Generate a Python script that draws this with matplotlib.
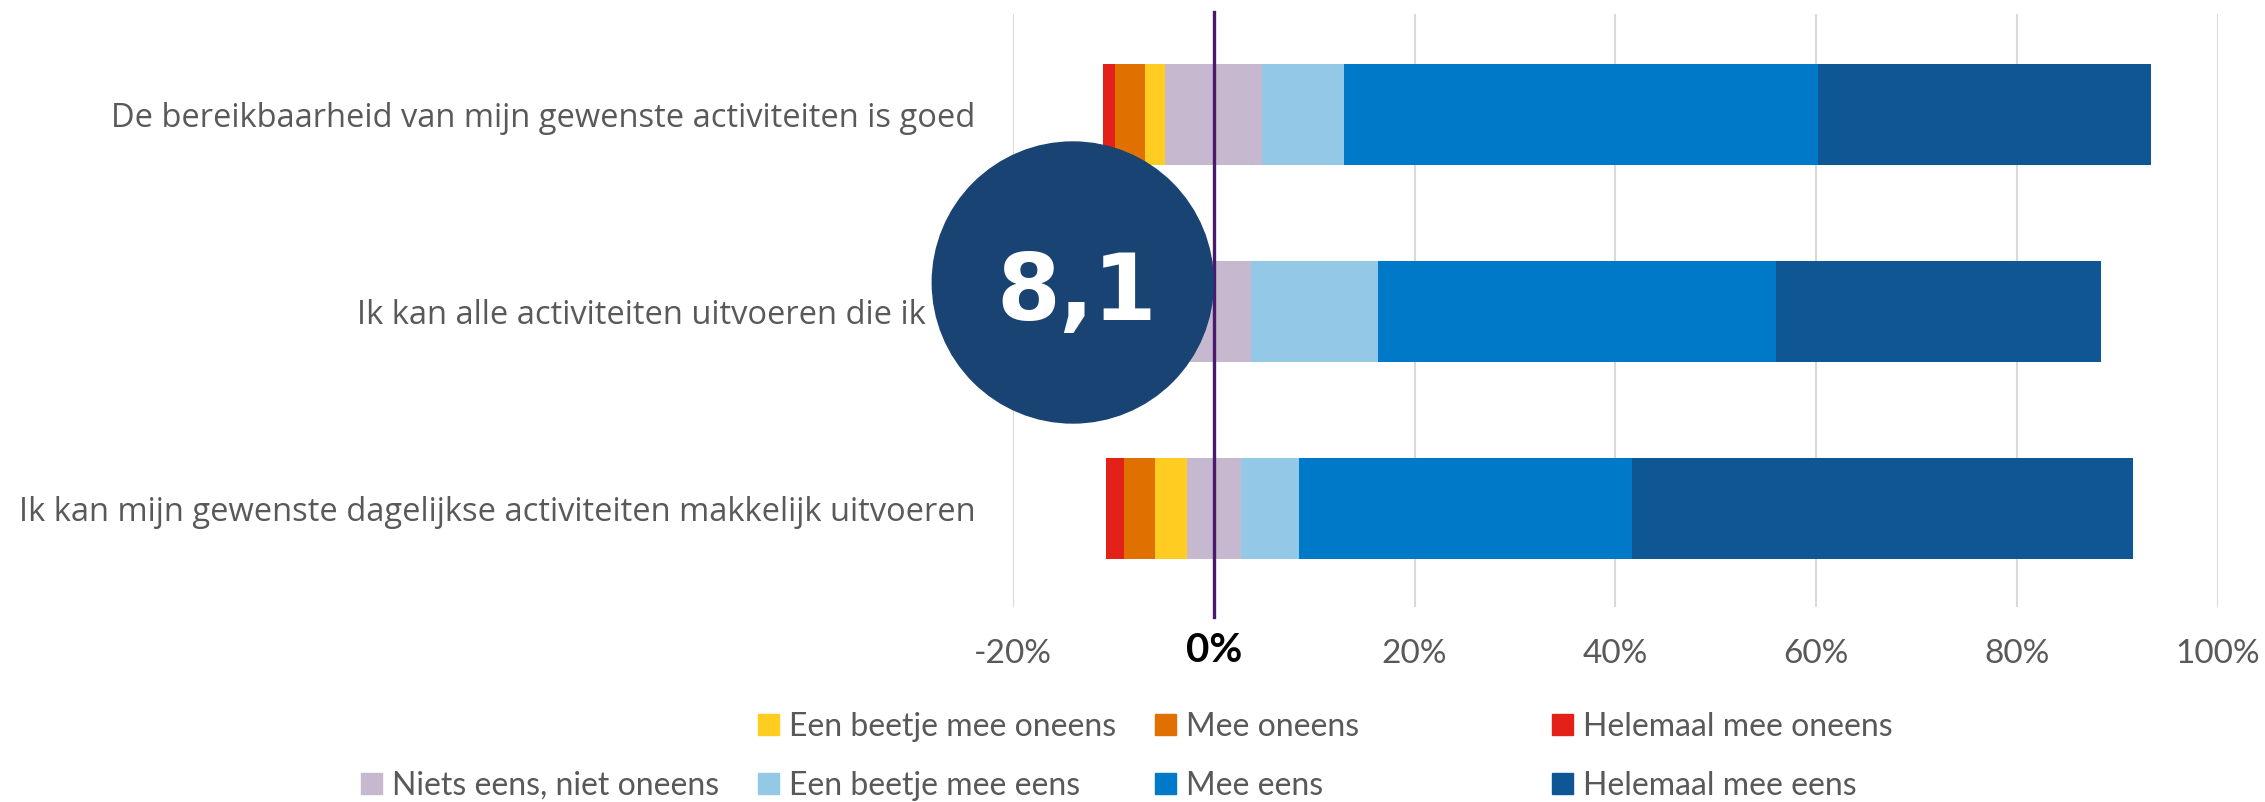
#!/usr/bin/env python3

import numpy as np
import matplotlib
matplotlib.use('Agg')
import matplotlib.pyplot as plt
from matplotlib.patches import Rectangle, Ellipse
from matplotlib.transforms import ScaledTranslation


#------------------------------------------------------------------------------
# Data
#------------------------------------------------------------------------------

categories = [
    'De bereikbaarheid van mijn gewenste activiteiten is goed',
    'Ik kan alle activiteiten uitvoeren die ik wil',
    'Ik kan mijn gewenste dagelijkse activiteiten makkelijk uitvoeren',
]

# percentages per answer, one value per category (top to bottom)
helemaal_oneens = [1.15, 1.0, 1.74]
mee_oneens = [2.97, 2.5, 3.15]
beetje_oneens = [2.06, 2.0, 3.14]
neutraal = [9.66, 7.46, 5.36]
beetje_eens = [8.14, 12.60, 5.81]
mee_eens = [47.18, 39.64, 33.18]
helemaal_eens = [33.25, 32.38, 49.88]

series_names = [
    'Helemaal mee oneens', 'Mee oneens', 'Een beetje mee oneens',
    'Niets eens, niet oneens', 'Een beetje mee eens', 'Mee eens',
    'Helemaal mee eens',
]
series_values = [helemaal_oneens, mee_oneens, beetje_oneens, neutraal,
                 beetje_eens, mee_eens, helemaal_eens]
series_colors = ['#E32119', '#E07000', '#FFCC22', '#C5B8CF',
                 '#93C9E6', '#0079C8', '#0E5794']

# legend layout as in the original (first slot empty)
legend_rows = [
    [None, 'Een beetje mee oneens', 'Mee oneens', 'Helemaal mee oneens'],
    ['Niets eens, niet oneens', 'Een beetje mee eens', 'Mee eens', 'Helemaal mee eens'],
]

x_ticks = [-20, 0, 20, 40, 60, 80, 100]
x_tick_labels = ['-20%', '0%', '20%', '40%', '60%', '80%', '100%']

score = '8,1'


#------------------------------------------------------------------------------
# Plot
#------------------------------------------------------------------------------

W, H = 2265, 802
GREY = '#595959'

fig = plt.figure(figsize=(W / 100, H / 100), dpi=100)
ax = fig.add_axes([1013 / W, 1 - 607 / H, (2217.6 - 1013) / W, 593 / H])

y = np.arange(len(categories))
values = np.array(series_values)
# start of each bar: everything left of the middle of the neutral segment
left = -(values[0] + values[1] + values[2] + values[3] / 2)
for name, vals, color in zip(series_names, values, series_colors):
    ax.barh(y, vals, left=left, height=0.51, color=color, zorder=3)
    left = left + vals

ax.set_xlim(-20, 100)
ax.set_ylim(2.5, -0.51)
ax.set_xticks(x_ticks)
ax.set_xticklabels(x_tick_labels, fontsize=24, color=GREY, family='Lato')
ax.set_yticks(y)
ax.set_yticklabels(categories, fontsize=23.5, color=GREY, family='Open Sans')
ax.tick_params(axis='x', length=0, pad=23)
ax.tick_params(axis='y', length=0, pad=27)
zero_label = ax.get_xticklabels()[1]
zero_label.set_fontweight('bold')
zero_label.set_fontsize(29)
zero_label.set_color('black')
zero_label.set_transform(zero_label.get_transform() +
                         ScaledTranslation(0, 5 / 72, fig.dpi_scale_trans))

for s in ax.spines.values():
    s.set_visible(False)
ax.grid(axis='x', color='#D9D9D9', linewidth=1.5, zorder=0)
ax.axvline(0, ymin=-0.017, ymax=1.0034, color='#4B1A6E', linewidth=2.4,
           zorder=4, clip_on=False)

# legend, equal column widths
color_of = dict(zip(series_names, series_colors))
for r, row in enumerate(legend_rows):
    cy = 724 + r * 59
    for c, name in enumerate(row):
        if name is None:
            continue
        x0 = 361 + c * 397
        fig.add_artist(Rectangle((x0 / W, 1 - (cy + 10.5) / H), 21 / W, 21 / H,
                                 transform=fig.transFigure,
                                 color=color_of[name]))
        fig.text((x0 + 31) / W, 1 - cy / H, name, fontsize=23, color=GREY,
                 family='Lato', ha='left', va='center_baseline')

# score badge
cx, cy, r = 1072.8, 282.5, 140.5
fig.add_artist(Ellipse((cx / W, 1 - cy / H), 2 * r / W, 2 * r / H,
                       transform=fig.transFigure, color='#184373', zorder=5))
# first digit set apart so the comma sits tight against it
fig.text(1060 / W, 1 - 320 / H, score[:1], fontsize=66, color='white',
         fontweight='bold', family='DejaVu Sans', ha='right',
         va='baseline', zorder=6)
fig.text(1058 / W, 1 - 320 / H, score[1:], fontsize=66, color='white',
         fontweight='bold', family='DejaVu Sans', ha='left',
         va='baseline', zorder=6)

plt.savefig('out.png', dpi=100)
plt.close()
